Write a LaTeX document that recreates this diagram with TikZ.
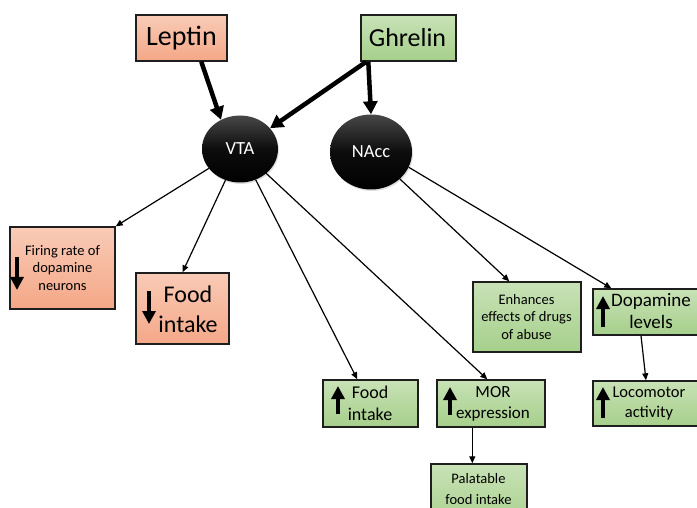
\documentclass[tikz,border=0pt]{standalone}
\usepackage{fontspec}
\setmainfont{Carlito}
\usetikzlibrary{arrows.meta,shapes.geometric,shadows}

\definecolor{salmonTop}{HTML}{F9CBB6}
\definecolor{salmonBot}{HTML}{F4A787}
\definecolor{greenTop}{HTML}{C8E2B6}
\definecolor{greenBot}{HTML}{A6CF8B}
\definecolor{edgeGray}{HTML}{1E1E1E}

\tikzset{
  basebox/.style={rectangle, draw=edgeGray, line width=1.4pt, inner sep=0pt,
    drop shadow={shadow xshift=1.2pt, shadow yshift=-1.2pt, opacity=0.3}},
  salmonbox/.style={basebox, top color=salmonTop, bottom color=salmonBot},
  greenbox/.style={basebox, top color=greenTop, bottom color=greenBot},
  region/.style={ellipse, inner sep=0pt, top color=black!72, bottom color=black,
    middle color=black!95, text=white, font=\fontsize{18.5}{22}\selectfont,
    drop shadow={shadow xshift=1pt, shadow yshift=-1.5pt, opacity=0.25}},
  label/.style={align=center, inner sep=0pt},
  conn/.style={line width=1.2pt, -{Triangle[length=7pt,width=6pt]}},
  boldconn/.style={line width=4.5pt, -{Triangle[length=13pt,width=14pt]}},
  blockarrow/.style={line width=4.5pt, -{Triangle[length=13pt,width=13pt]}},
}

\begin{document}
\begin{tikzpicture}[x=1pt,y=-1pt]
\useasboundingbox (0,0) rectangle (697,508);
\clip (0,0) rectangle (697,508);

% hormone boxes
\node[salmonbox, minimum width=91pt, minimum height=46pt] (leptin) at (181.5,38) {};
\node[label, font=\fontsize{28}{32}\selectfont] (leptintxt) at (181.5,38) {Leptin};
\node[greenbox, minimum width=95pt, minimum height=46pt] (ghrelin) at (408.5,38) {};
\node[label, font=\fontsize{26}{30}\selectfont] (ghrelintxt) at (407.5,38) {Ghrelin};

% brain regions
\node[region, minimum width=76pt, minimum height=67pt] (VTA) at (240,149) {VTA};
\node[region, minimum width=82pt, minimum height=75pt] (NAcc) at (371,152) {NAcc};

% leptin effects
\node[salmonbox, minimum width=105pt, minimum height=82pt] (firing) at (62.5,268) {};
\node[label, font=\fontsize{14.5}{17.5}\selectfont] (firingtxt) at (62.5,268) {Firing rate of\\dopamine\\neurons};
\draw[blockarrow] (17,257) -- (17,290);

\node[salmonbox, minimum width=93pt, minimum height=71pt] (fooddown) at (182.5,308.5) {};
\node[label, font=\fontsize{24}{30}\selectfont] (fooddowntxt) at (188,309) {Food\\intake};
\draw[blockarrow] (149,291) -- (149,324);

% ghrelin effects via VTA
\node[greenbox, minimum width=95pt, minimum height=47pt] (foodup) at (370.5,403.5) {};
\node[label, font=\fontsize{18}{21.5}\selectfont] (fooduptxt) at (370,403.5) {Food\\intake};
\draw[blockarrow] (338,414) -- (338,386);

\node[greenbox, minimum width=108pt, minimum height=47pt] (mor) at (491,403.5) {};
\node[label, font=\fontsize{17}{20.5}\selectfont] (mortxt) at (493,404) {MOR\\expression};
\draw[blockarrow] (450,415) -- (450,387);

\node[greenbox, minimum width=96pt, minimum height=66pt] (pal) at (479,497) {};
\node[label, font=\fontsize{14.5}{21}\selectfont] (paltxt) at (478.5,489.5) {Palatable\\food intake};

% ghrelin effects via NAcc
\node[greenbox, minimum width=108pt, minimum height=70pt] (enh) at (527,317) {};
\node[label, font=\fontsize{14.5}{17.5}\selectfont] (enhtxt) at (526.5,317) {Enhances\\effects of drugs\\of abuse};

\node[greenbox, minimum width=106pt, minimum height=46pt] (dopa) at (646,312) {};
\node[label, font=\fontsize{19}{22}\selectfont] (dopatxt) at (651,311.5) {Dopamine\\levels};
\draw[blockarrow] (603,327) -- (603,296);

\node[greenbox, minimum width=106pt, minimum height=45pt] (loco) at (646,403.5) {};
\node[label, font=\fontsize{16.5}{20}\selectfont] (locotxt) at (649,403.5) {Locomotor\\activity};
\draw[blockarrow] (603,418) -- (603,387);

% hormone inputs
\draw[boldconn] ([xshift=66pt]leptin.south west) -- (VTA.123);
\draw[boldconn] ([xshift=6pt]ghrelin.south west) -- (VTA);
\draw[boldconn] ([xshift=8pt]ghrelin.south west) -- (NAcc.north);

% projections
\draw[conn] (VTA) -- (firing.north east);
\draw[conn] (VTA) -- (fooddown.north);
\draw[conn] (VTA) -- ([xshift=35pt]foodup.north west);
\draw[conn] (VTA) -- ([xshift=51pt]mor.north west);
\draw[conn] ([xshift=36pt]mor.south west) -- ([xshift=42pt]pal.north west);
\draw[conn] (NAcc) -- ([xshift=37pt]enh.north west);
\draw[conn] (NAcc.-22) -- ([xshift=19pt]dopa.north west);
\draw[conn] ([xshift=-5pt]dopa.south) -- (loco.north);
\end{tikzpicture}
\end{document}
